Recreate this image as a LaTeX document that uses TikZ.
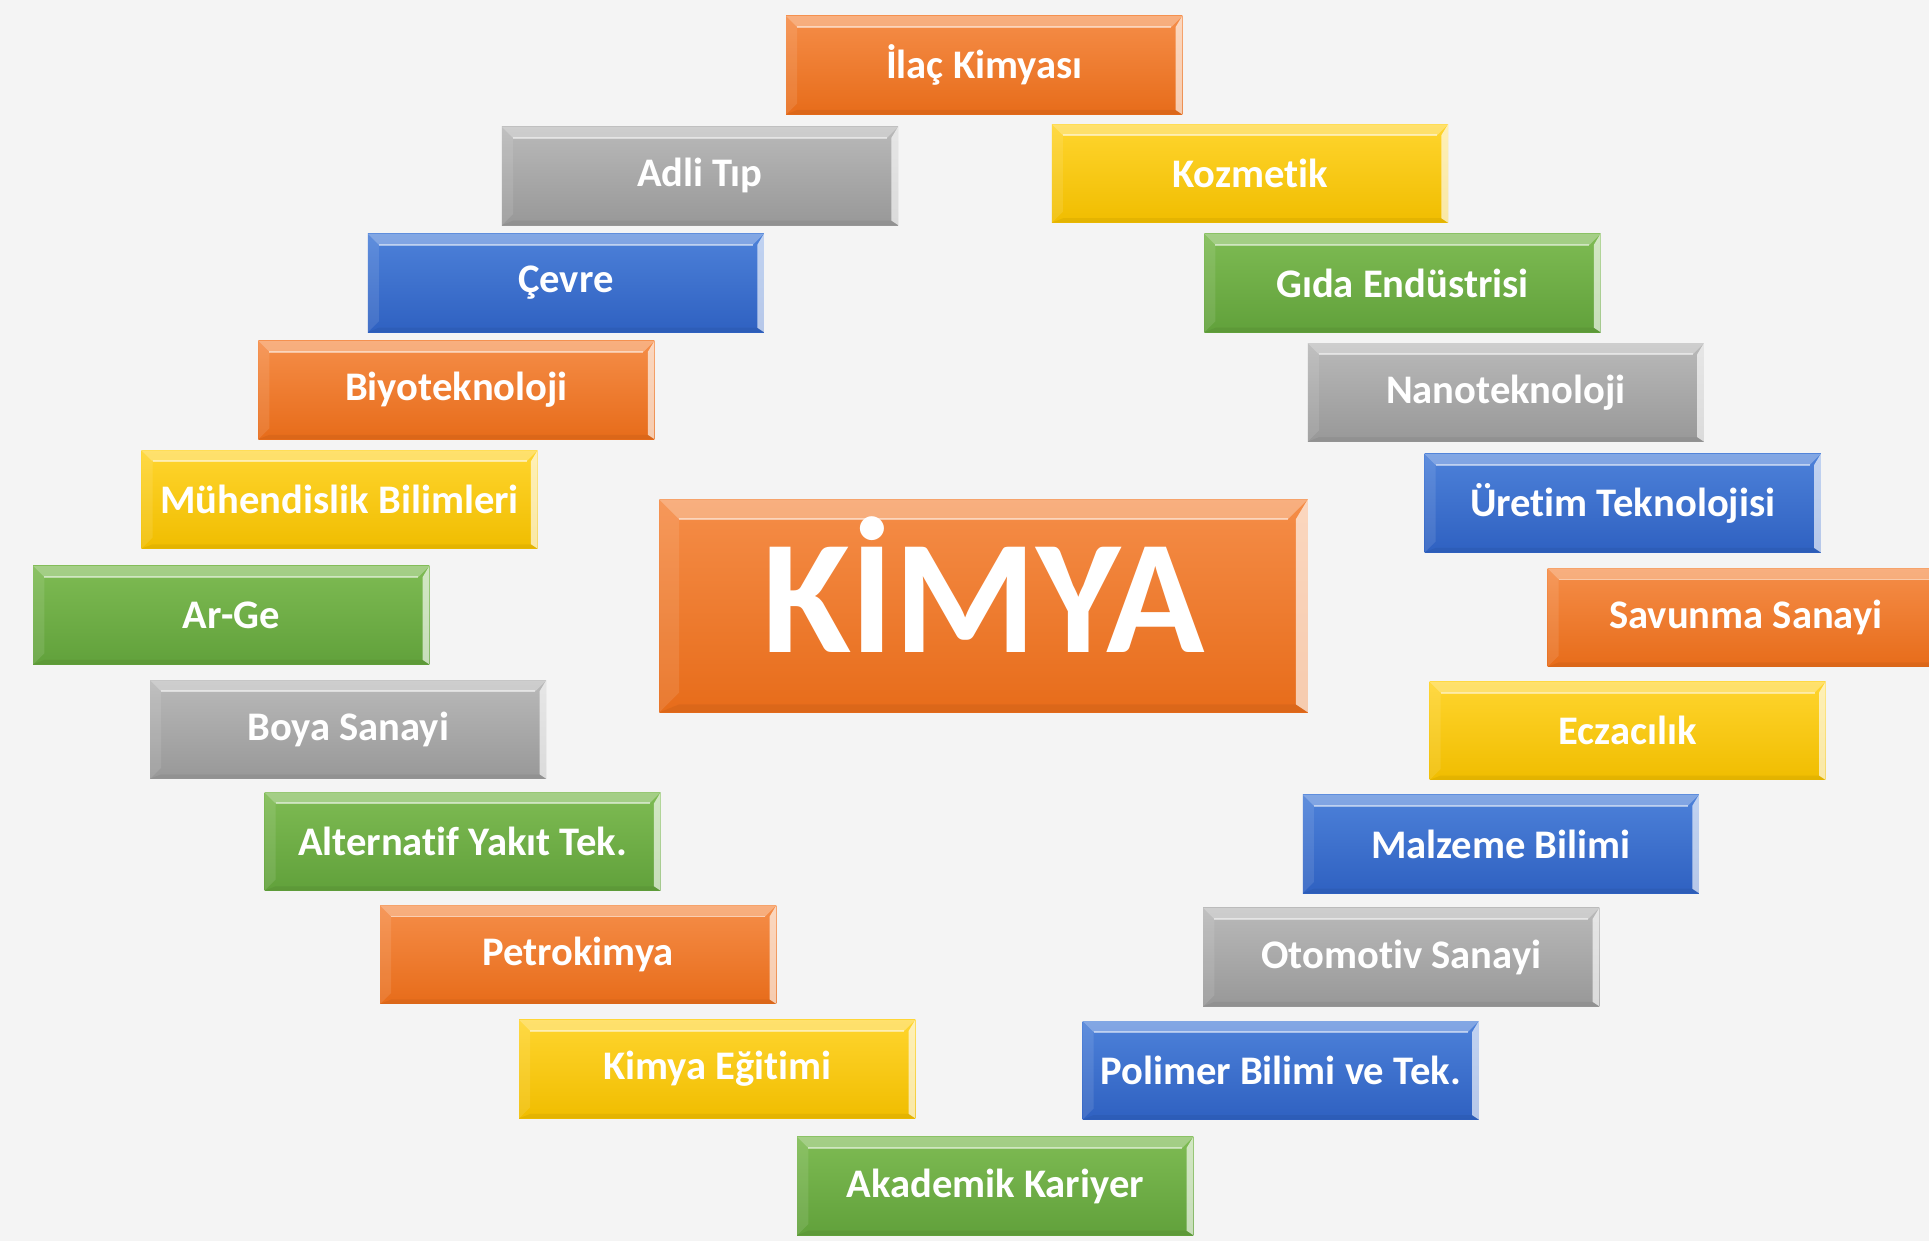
\documentclass[tikz,border=0pt]{standalone}
\usepackage{fontspec}
\usepackage{graphicx}
\setmainfont[Ligatures={NoCommon,NoContextual,NoRequired},Contextuals=NoAlternate]{Carlito}
\definecolor{bgc}{HTML}{F4F4F4}
\definecolor{orT}{HTML}{F58D48}
\definecolor{orB}{HTML}{E76C1A}
\definecolor{yeT}{HTML}{FFD52E}
\definecolor{yeB}{HTML}{F0BD00}
\definecolor{grT}{HTML}{7EBB53}
\definecolor{grB}{HTML}{61A13B}
\definecolor{gyT}{HTML}{B9B9B9}
\definecolor{gyB}{HTML}{989898}
\definecolor{blT}{HTML}{4D81D9}
\definecolor{blB}{HTML}{2F61C1}
\tikzset{
  bevel/.style={path picture={
    \coordinate (pnw) at (path picture bounding box.north west);
    \coordinate (pne) at (path picture bounding box.north east);
    \coordinate (psw) at (path picture bounding box.south west);
    \coordinate (pse) at (path picture bounding box.south east);
    \fill[white,opacity=.30] (pnw) -- (pne) -- ([shift={(-#1,-#1)}]pne) -- ([shift={(#1,-#1)}]pnw) -- cycle;
    \fill[white,opacity=.10] (pnw) -- ([shift={(#1,-#1)}]pnw) -- ([shift={(#1,#1)}]psw) -- (psw) -- cycle;
    \fill[white,opacity=.65] (pne) -- ([shift={(-#1*0.6,-#1)}]pne) -- ([shift={(-#1*0.6,#1*0.4)}]pse) -- (pse) -- cycle;
    \fill[black,opacity=.05] (psw) -- ([shift={(#1,#1*0.4)}]psw) -- ([shift={(-#1*0.6,#1*0.4)}]pse) -- (pse) -- cycle;
    \draw[white,opacity=.5,line width=1.5pt] ([shift={(#1,-#1)}]pnw) -- ([shift={(-#1,-#1)}]pne);
  }},
  lbl/.style={minimum width=322pt, minimum height=80pt, inner sep=0pt, text=white,
    font=\fontsize{33}{40}\selectfont\bfseries, bevel=9pt},
  obox/.style={lbl, top color=orT, bottom color=orB},
  ybox/.style={lbl, top color=yeT, bottom color=yeB},
  gbox/.style={lbl, top color=grT, bottom color=grB},
  sbox/.style={lbl, top color=gyT, bottom color=gyB},
  bbox/.style={lbl, top color=blT, bottom color=blB},
}
\begin{document}
\begin{tikzpicture}[x=1pt,y=-1pt]
\useasboundingbox (0,0) rectangle (1568,1009);
\fill[bgc] (0,0) rectangle (1568,1009);
\clip (0,0) rectangle (1568,1009);
\node[obox] (ilac) at (800,53) {İlaç Kimyası};
\node[sbox] (adli) at (569,143) {Adli Tıp};
\node[ybox] (kozm) at (1016,141) {Kozmet\kern0pt ik};
\node[bbox] (cevre) at (460,230) {Çevre};
\node[gbox] (gida) at (1140,230) {Gıda Endüstrisi};
\node[obox] (biyo) at (371,317) {Biyoteknoloji};
\node[sbox] (nano) at (1224,319) {Nanoteknoloji};
\node[ybox] (muh) at (276,406) {Mühendislik Bilimleri};
\node[bbox] (uret) at (1319,409) {Üret\kern0pt im Teknolojisi};
\node[gbox] (arge) at (188,500) {Ar-Ge};
\node[obox] (savu) at (1419,502) {Savunma Sanayi};
\node[sbox] (boya) at (283,593) {Boya Sanayi};
\node[ybox] (ecza) at (1323,594) {Eczacılık};
\node[gbox] (alt) at (376,684) {Alternat\kern0pt if Yakıt Tek.};
\node[bbox] (malz) at (1220,686) {Malzeme Bilimi};
\node[obox] (petro) at (470,776) {Petrokimya};
\node[sbox] (oto) at (1139,778) {Otomot\kern0pt iv Sanayi};
\node[ybox] (egit) at (583,869) {Kimya Eğit\kern0pt imi};
\node[bbox] (poli) at (1041,870) {Polimer Bilimi ve Tek.};
\node[gbox] (akad) at (809,964) {Akademik Kariyer};
\node[obox, minimum width=527pt, minimum height=173pt, bevel=16pt,
  text height=75pt, text depth=0pt,
  font=\fontsize{132}{140}\selectfont\bfseries] (kimya) at (799.5,492.5) {KİMYA};
\end{tikzpicture}
\end{document}
